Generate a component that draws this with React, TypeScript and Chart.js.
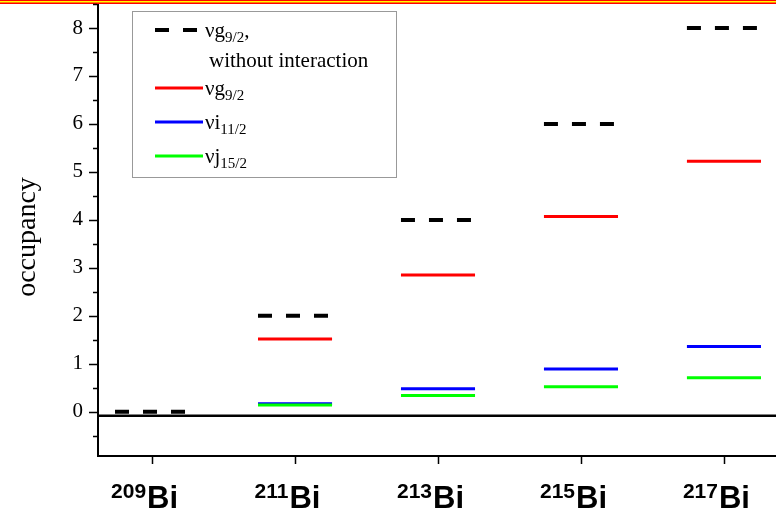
import React, { useEffect, useRef } from "react";
import { Chart, registerables } from "chart.js";

Chart.register(...registerables);

// ---- data ----
const ISOTOPES = ["209", "211", "213", "215", "217"];
const ELEMENT = "Bi";
const noInteraction = [0, 2, 4, 6, 8];
const g92 = [null, 1.52, 2.85, 4.07, 5.22];
const i112 = [null, 0.17, 0.48, 0.89, 1.36];
const j152 = [null, 0.14, 0.34, 0.52, 0.71];
const Y_MIN = -0.9;
const Y_MAX = 8.5;
const X_MIN = 0.615;
const X_MAX = 5.364;
const HALF = 0.259;
const BASELINE = -0.08;
const Y_TITLE = "occupancy";
const LEGEND_MAIN = ["νg", "νg", "νi", "νj"];
const LEGEND_SUB = ["9/2", "9/2", "11/2", "15/2"];
const LEGEND_NOTE = "without interaction";

const SERIF = '"Liberation Serif", "Times New Roman", serif';
const SANS = '"Liberation Sans", Arial, sans-serif';

function levels(values: (number | null)[]) {
  const pts: { x: number; y: number | null }[] = [];
  values.forEach((v, i) => {
    if (v === null) return;
    pts.push({ x: i + 1 - HALF, y: v });
    pts.push({ x: i + 1 + HALF, y: v });
    pts.push({ x: i + 1.5, y: null });
  });
  return pts;
}

const decor = {
  id: "decor",
  afterDraw(chart: any) {
    const ctx = chart.ctx as CanvasRenderingContext2D;
    const { left, right, top, bottom } = chart.chartArea;
    const xs = chart.scales.x;
    const ys = chart.scales.y;
    ctx.save();
    // top band
    ctx.fillStyle = "#ff0000";
    ctx.fillRect(0, 0, chart.width, 4);
    ctx.fillStyle = "#ffff00";
    ctx.fillRect(0, 1, chart.width, 1.5);

    // axes lines
    ctx.strokeStyle = "#000";
    ctx.lineWidth = 2;
    ctx.beginPath();
    ctx.moveTo(left + 1, top);
    ctx.lineTo(left + 1, bottom + 2);
    ctx.moveTo(left, bottom + 1);
    ctx.lineTo(right, bottom + 1);
    ctx.stroke();

    // y ticks
    ctx.lineWidth = 1.5;
    ctx.beginPath();
    for (let v = -0.5; v <= Y_MAX + 1e-9; v += 0.5) {
      const y = Math.round(ys.getPixelForValue(v)) + 0.5;
      const len = Math.abs(v - Math.round(v)) < 1e-9 ? 8 : 4;
      ctx.moveTo(left, y);
      ctx.lineTo(left - len, y);
    }
    // x ticks
    ISOTOPES.forEach((_, i) => {
      const x = Math.round(xs.getPixelForValue(i + 1)) + 0.5;
      ctx.moveTo(x, bottom + 1);
      ctx.lineTo(x, bottom + 9);
    });
    ctx.stroke();

    // x labels with superscripts
    ctx.fillStyle = "#000";
    ctx.textBaseline = "alphabetic";
    ctx.textAlign = "left";
    ISOTOPES.forEach((iso, i) => {
      const cx = xs.getPixelForValue(i + 1) - 8;
      ctx.font = `bold 21px ${SANS}`;
      const wSup = ctx.measureText(iso).width;
      ctx.font = `bold 31px ${SANS}`;
      const wMain = ctx.measureText(ELEMENT).width;
      const x0 = cx - (wSup + wMain) / 2;
      ctx.font = `bold 21px ${SANS}`;
      ctx.fillText(iso, x0, 498);
      ctx.font = `bold 31px ${SANS}`;
      ctx.fillText(ELEMENT, x0 + wSup + 1, 508);
    });

    // y title
    ctx.save();
    ctx.translate(35, 237);
    ctx.rotate(-Math.PI / 2);
    ctx.textAlign = "center";
    ctx.font = `28px ${SERIF}`;
    ctx.fillText(Y_TITLE, 0, 0);
    ctx.restore();

    // legend
    ctx.fillStyle = "#fff";
    ctx.fillRect(132.5, 11.5, 264, 166);
    ctx.strokeStyle = "#999";
    ctx.lineWidth = 1;
    ctx.strokeRect(132.5, 11.5, 264, 166);

    const colors = ["#000000", "#ff0000", "#0000ff", "#00ff00"];
    const rowY = [30, 88, 122, 156];
    const tx = 205;
    const label = (i: number, suffix: string) => {
      const base = rowY[i] + 7;
      ctx.fillStyle = "#000";
      ctx.font = `21px ${SERIF}`;
      ctx.fillText(LEGEND_MAIN[i], tx, base);
      const w = ctx.measureText(LEGEND_MAIN[i]).width;
      ctx.font = `15px ${SERIF}`;
      ctx.fillText(LEGEND_SUB[i], tx + w, base + 5);
      const w2 = ctx.measureText(LEGEND_SUB[i]).width;
      if (suffix) {
        ctx.font = `21px ${SERIF}`;
        ctx.fillText(suffix, tx + w + w2, base);
      }
    };
    // dashed sample
    ctx.strokeStyle = colors[0];
    ctx.lineWidth = 4;
    ctx.setLineDash([14, 14]);
    ctx.beginPath();
    ctx.moveTo(155, rowY[0]);
    ctx.lineTo(197, rowY[0]);
    ctx.stroke();
    ctx.setLineDash([]);
    label(0, ",");
    ctx.font = `21px ${SERIF}`;
    ctx.fillStyle = "#000";
    ctx.fillText(LEGEND_NOTE, tx + 4, 67);
    for (let i = 1; i < 4; i++) {
      ctx.strokeStyle = colors[i];
      ctx.lineWidth = 3;
      ctx.beginPath();
      ctx.moveTo(155, rowY[i]);
      ctx.lineTo(203, rowY[i]);
      ctx.stroke();
      label(i, "");
    }
    ctx.restore();
  },
};

export default function App() {
  const ref = useRef<HTMLCanvasElement>(null);
  useEffect(() => {
    document.body.style.margin = "0";
    const canvas = ref.current!;
    const chart = new Chart(canvas, {
      type: "line",
      data: {
        datasets: [
          {
            label: "without interaction",
            data: levels(noInteraction),
            borderColor: "#000000",
            borderWidth: 4,
            borderDash: [14, 14],
            pointRadius: 0,
            spanGaps: false,
            order: 0,
          },
          {
            label: "j15/2",
            data: levels(j152),
            borderColor: "#00ff00",
            borderWidth: 3,
            pointRadius: 0,
            spanGaps: false,
            order: 1,
          },
          {
            label: "i11/2",
            data: levels(i112),
            borderColor: "#0000ff",
            borderWidth: 3,
            pointRadius: 0,
            spanGaps: false,
            order: 2,
          },
          {
            label: "g9/2",
            data: levels(g92),
            borderColor: "#ff0000",
            borderWidth: 3,
            pointRadius: 0,
            spanGaps: false,
            order: 3,
          },
          {
            label: "zero",
            data: [
              { x: X_MIN, y: BASELINE },
              { x: X_MAX, y: BASELINE },
            ],
            borderColor: "#000000",
            borderWidth: 2.5,
            pointRadius: 0,
            order: 4,
          },
        ],
      },
      options: {
        animation: false,
        responsive: false,
        layout: { padding: { top: 4, right: 0, left: 0, bottom: 0 } },
        plugins: { legend: { display: false }, tooltip: { enabled: false } },
        scales: {
          x: {
            type: "linear",
            min: X_MIN,
            max: X_MAX,
            grid: { display: false, drawTicks: false },
            border: { display: false },
            ticks: { display: false },
            afterFit: (s: any) => {
              s.height = 57;
              s.paddingLeft = 0;
              s.paddingRight = 0;
              s.paddingTop = 0;
              s.paddingBottom = 0;
            },
          },
          y: {
            type: "linear",
            min: Y_MIN,
            max: Y_MAX,
            grid: { display: false, drawTicks: false },
            border: { display: false },
            ticks: {
              stepSize: 0.5,
              autoSkip: false,
              padding: 14,
              color: "#000",
              font: { family: SERIF, size: 21 },
              callback: (v: any) =>
                Math.abs(v - Math.round(v)) < 1e-9 ? String(Math.round(v)) : "",
            },
            afterFit: (s: any) => {
              s.width = 97;
              s.paddingTop = 0;
              s.paddingBottom = 0;
              s.paddingLeft = 0;
              s.paddingRight = 0;
            },
          },
        },
      },
      plugins: [decor],
    } as any);
    return () => chart.destroy();
  }, []);
  return (
    <div style={{ width: 776, height: 512 }}>
      <canvas ref={ref} width={776} height={512} style={{ display: "block" }} />
    </div>
  );
}
